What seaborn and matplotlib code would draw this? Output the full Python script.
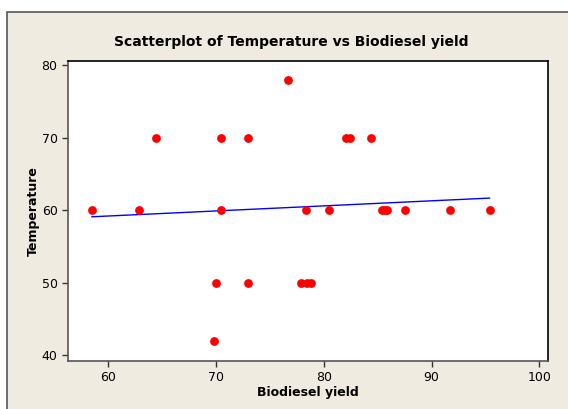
import pandas as pd
import matplotlib.pyplot as plt
import seaborn as sns
from matplotlib.patches import Rectangle

# values
biodiesel_yield = [58.5, 62.9, 64.5, 70.0, 69.8, 70.5, 70.5, 73.0, 73.0, 76.7,
                   77.9, 78.5, 78.8, 78.4, 80.5, 82.1, 82.4, 84.4, 85.4, 85.7,
                   85.9, 87.5, 91.7, 95.4]
temperature = [60, 60, 70, 50, 42, 70, 60, 70, 50, 78,
               50, 50, 50, 60, 60, 70, 70, 70, 60, 60,
               60, 60, 60, 60]
x_ticks = [60, 70, 80, 90, 100]
y_ticks = [40, 50, 60, 70, 80]

df = pd.DataFrame({'Biodiesel yield': biodiesel_yield, 'Temperature': temperature})

sns.set_style('ticks')
plt.rcParams['font.family'] = ['DejaVu Sans']
plt.rcParams['text.color'] = 'black'
plt.rcParams['axes.labelcolor'] = 'black'

W, H = 568, 409
fig = plt.figure(figsize=(W / 100, H / 100), dpi=100, facecolor='white')
# beige panel with dark border on top/left
fig.patches.append(Rectangle((7 / W, -0.01), 1 - 7 / W + 0.01, 1 - 12 / H + 0.01,
                             transform=fig.transFigure, facecolor='#efebe1',
                             edgecolor='#555555', linewidth=1.2, zorder=-5))

ax = fig.add_axes([68 / W, 1 - 361 / H, (547.5 - 68) / W, (361 - 61) / H])
ax.set_facecolor('white')

sns.regplot(data=df, x='Biodiesel yield', y='Temperature', ci=None, ax=ax,
            scatter_kws={'color': 'red', 's': 40, 'alpha': 1, 'linewidths': 0, 'zorder': 3},
            line_kws={'color': '#0000ff', 'linewidth': 1})

ax.set_xlim(56.3, 100.75)
ax.set_ylim(39.2, 80.55)
ax.set_xticks(x_ticks)
ax.set_yticks(y_ticks)
ax.tick_params(direction='out', length=4, width=1, colors='#333333', labelsize=9,
               labelcolor='black')
for side in ['top', 'right']:
    ax.spines[side].set_color('black')
for side in ['left', 'bottom']:
    ax.spines[side].set_color('#555555')
for s in ax.spines.values():
    s.set_linewidth(1.2)

ax.set_xlabel('Biodiesel yield', fontsize=9, fontweight='bold', labelpad=1)
ax.set_ylabel('Temperature', fontsize=9, fontweight='bold', labelpad=1)
fig.text((113 + 470) / 2 / W, 1 - 42 / H, 'Scatterplot of Temperature vs Biodiesel yield',
         ha='center', va='center', fontsize=10, fontweight='bold')

fig.savefig('out.png', dpi=100, facecolor='white')
